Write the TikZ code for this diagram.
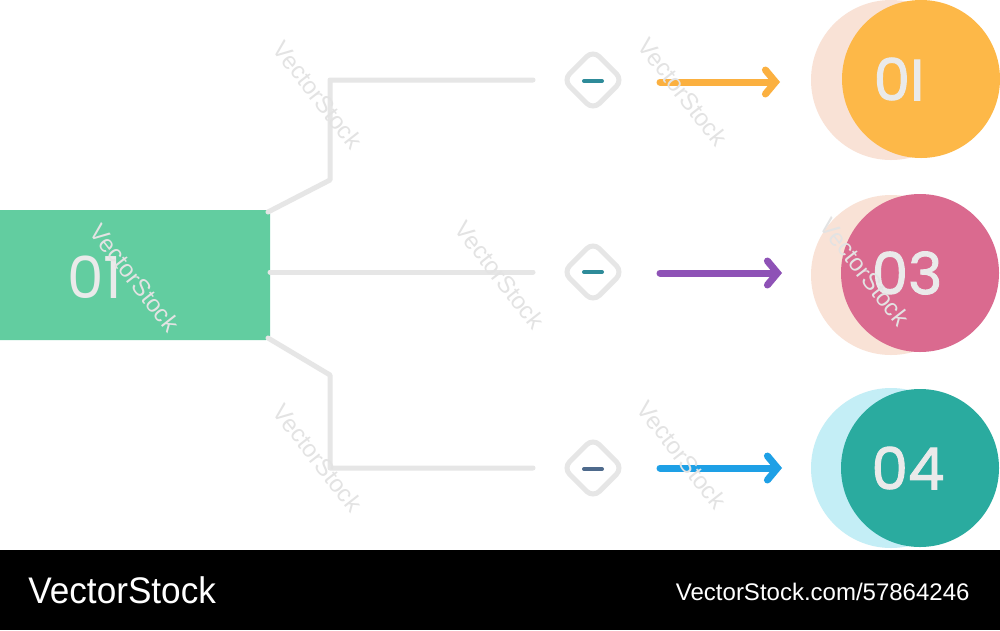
\documentclass[tikz,border=0pt]{standalone}
\usepackage{fontspec}
\setmainfont{Liberation Sans}
\newfontfamily\numfont{Poppins}
\newfontfamily\numfontm{Poppins}[FakeBold=1.6]
\usetikzlibrary{arrows.meta}
\definecolor{gline}{HTML}{E6E6E6}
\definecolor{boxgreen}{HTML}{62CDA0}
\definecolor{numgray}{HTML}{EAEAEA}
\definecolor{corange}{HTML}{FDB848}
\definecolor{cpink}{HTML}{DA6A8F}
\definecolor{cteal}{HTML}{2AAB9F}
\definecolor{cpeach}{HTML}{F9E2D6}
\definecolor{ccyan}{HTML}{C4EEF6}
\definecolor{aorange}{HTML}{FBB040}
\definecolor{apurple}{HTML}{8E52B6}
\definecolor{ablue}{HTML}{1EA0E6}
\definecolor{dteal}{HTML}{2E8B99}
\definecolor{dslate}{HTML}{4E6A8C}
\begin{document}
\begin{tikzpicture}[x=1pt,y=-1pt,
  tree/.style={draw=gline,line width=5pt,line join=round,line cap=round},
  diam/.style={draw=gline,line width=5pt,rounded corners=9pt,minimum size=42pt,rotate=45,inner sep=0pt},
  dashmark/.style={line width=4pt,line cap=round},
  arr/.style={line width=7pt,line cap=round,-{Straight Barb[length=10pt,width=24pt,line cap=round]}},
  num/.style={font=\numfontm\fontsize{58}{58}\selectfont,text=numgray},
  wm/.style={font=\fontsize{24}{24}\selectfont,text=black!11,rotate=-52}
]
\useasboundingbox (0,0) rectangle (1000,630);
\fill[white] (0,0) rectangle (1000,550);
% left box
\node[fill=boxgreen,rounded corners=4pt,minimum width=290pt,minimum height=130pt,inner sep=0pt] (box) at (125,275) {};
\node[num,font=\numfont\fontsize{58}{58}\selectfont] (boxnum) at (95,277) {01};
\coordinate (b1) at (268,212);
\coordinate (b2) at (270,272);
\coordinate (b3) at (268,338);
% diamonds
\node[diam] (d1) at (593,80) {};
\node[diam] (d2) at (593,272) {};
\node[diam] (d3) at (593,468) {};
\coordinate (t1) at (533,80);
\coordinate (t2) at (533,272);
\coordinate (t3) at (533,468);
\draw[tree] (b1) -- (330,180) -- (330,80) -- (t1);
\draw[tree] (b2) -- (t2);
\draw[tree] (b3) -- (330,375) -- (330,468) -- (t3);
\draw[dashmark,dteal] (584,81) -- (602,81);
\draw[dashmark,dteal] (584,272) -- (602,272);
\draw[dashmark,dslate] (584,469) -- (602,469);
% circles
\fill[cpeach] (891,80) circle (80);
\node[circle,fill=corange,minimum size=158pt,inner sep=0pt] (c1) at (921,79) {};
\node[num] at ([xshift=-22pt]c1.center) {0I};
\fill[cpeach] (891,275) circle (80);
\node[circle,fill=cpink,minimum size=158pt,inner sep=0pt] (c2) at (920,273) {};
\node[num] at ([xshift=-13pt]c2.center) {03};
\fill[ccyan] (891,468) circle (80);
\node[circle,fill=cteal,minimum size=158pt,inner sep=0pt] (c3) at (920,468) {};
\node[num] at ([xshift=-12pt]c3.center) {04};
% arrows
\coordinate (a1) at (660,82);
\coordinate (a2) at (660,273);
\coordinate (a3) at (660,468);
\draw[arr,aorange] (a1) -- (780,82);
\draw[arr,apurple] (a2) -- (782,273);
\draw[arr,ablue] (a3) -- (782,468);
% watermarks
\foreach \p in {(318,95),(683,92),(500,275),(135,278),(865,272),(318,458),(682,455)}
  \node[wm] at \p {VectorStock};
% bottom band
\fill[black] (0,550) rectangle (1000,630);
\node[anchor=west,text=white,font=\fontsize{37}{37}\selectfont,xscale=0.95] (brand) at (25,590) {VectorStock};
\node[anchor=east,text=white,font=\fontsize{24}{24}\selectfont,xscale=1.0] (url) at (973,592) {VectorStock.com/57864246};
\end{tikzpicture}
\end{document}
